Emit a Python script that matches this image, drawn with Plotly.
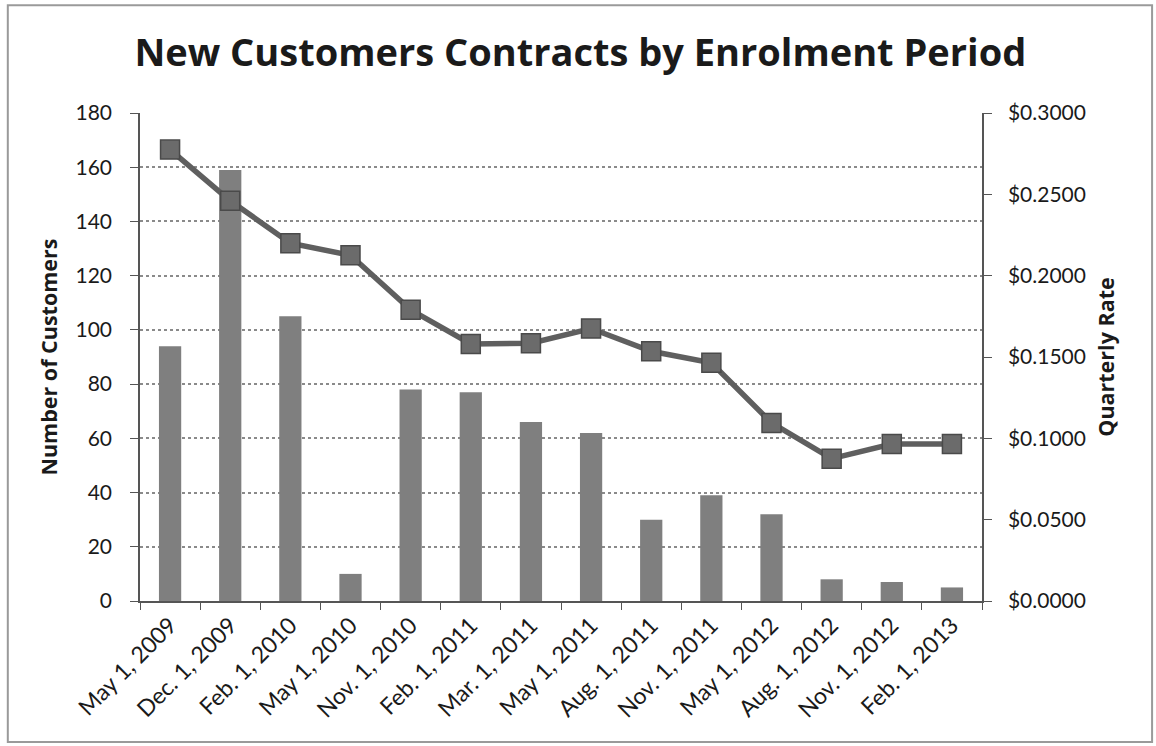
import plotly.graph_objects as go

categories = ["May 1, 2009", "Dec. 1, 2009", "Feb. 1, 2010", "May 1, 2010", "Nov. 1, 2010",
              "Feb. 1, 2011", "Mar. 1, 2011", "May 1, 2011", "Aug. 1, 2011", "Nov. 1, 2011",
              "May 1, 2012", "Aug. 1, 2012", "Nov. 1, 2012", "Feb. 1, 2013"]
customers = [94, 159, 105, 10, 78, 77, 66, 62, 30, 39, 32, 8, 7, 5]
quarterly_rate = [0.2775, 0.2460, 0.2200, 0.2125, 0.1790, 0.1580, 0.1585, 0.1675,
                  0.1535, 0.1465, 0.1095, 0.0875, 0.0965, 0.0965]
left_ticks = list(range(0, 181, 20))
right_ticks = [0, 0.05, 0.10, 0.15, 0.20, 0.25, 0.30]

font_family = "Lato, 'Open Sans', sans-serif"
title_family = "'Open Sans', Lato, sans-serif"

fig = go.Figure()
fig.add_trace(go.Bar(
    x=categories, y=customers, name="Number of Customers",
    marker=dict(color="#7f7f7f", line=dict(width=0)),
    width=0.37, yaxis="y",
))
fig.add_trace(go.Scatter(
    x=categories, y=quarterly_rate, name="Quarterly Rate", yaxis="y2",
    mode="lines+markers",
    line=dict(color="#5f5f5f", width=5.5),
    marker=dict(symbol="square", size=19, color="#6b6b6b", line=dict(color="#4a4a4a", width=1.5)),
))

fig.update_layout(
    width=1156, height=746,
    margin=dict(l=140, r=174, t=113, b=145, autoexpand=False),
    paper_bgcolor="white", plot_bgcolor="white",
    showlegend=False,
    font=dict(family=font_family, color="#1a1a1a"),
    title=dict(text="<b>New Customers Contracts by Enrolment Period</b>",
               x=0.502, xanchor="center", xref="container", y=0.93, yanchor="middle",
               font=dict(size=38, family=title_family, color="#1a1a1a")),
    xaxis=dict(
        type="category", range=[-0.5, 13.5], tickangle=-45, tickfont=dict(size=23),
        showline=True, linecolor="#555555", linewidth=1.5,
        ticks="outside", ticklen=7, tickcolor="#555555", tickson="boundaries",
        showgrid=False, automargin=False,
    ),
    yaxis=dict(
        range=[0, 180], tickvals=left_ticks, tickfont=dict(size=21),
        title=dict(text="<b>Number of Customers</b>", font=dict(size=21.5, family=title_family), standoff=12),
        showline=True, linecolor="#555555", linewidth=1.5,
        ticks="outside", ticklen=8, tickcolor="#555555", ticklabelstandoff=14,
        showgrid=True, gridcolor="#8a8a8a", griddash="dot", gridwidth=1.5,
        zeroline=False, automargin=False,
    ),
    yaxis2=dict(
        range=[0, 0.3], tickvals=right_ticks, tickformat="$.4f",
        overlaying="y", side="right", tickfont=dict(size=21),
        title=dict(text="<b>Quarterly Rate</b>", font=dict(size=21.5, family=title_family), standoff=14),
        showline=True, linecolor="#555555", linewidth=1.5,
        ticks="outside", ticklen=8, tickcolor="#555555", ticklabelstandoff=12,
        showgrid=False, zeroline=False, automargin=False,
    ),
    shapes=[dict(type="rect", xref="paper", yref="paper",
                 x0=-0.157, x1=1.202, y0=-0.289, y1=1.221,
                 line=dict(color="#9a9a9a", width=2), fillcolor="rgba(0,0,0,0)", layer="below")],
)

fig.write_html("out.html")
